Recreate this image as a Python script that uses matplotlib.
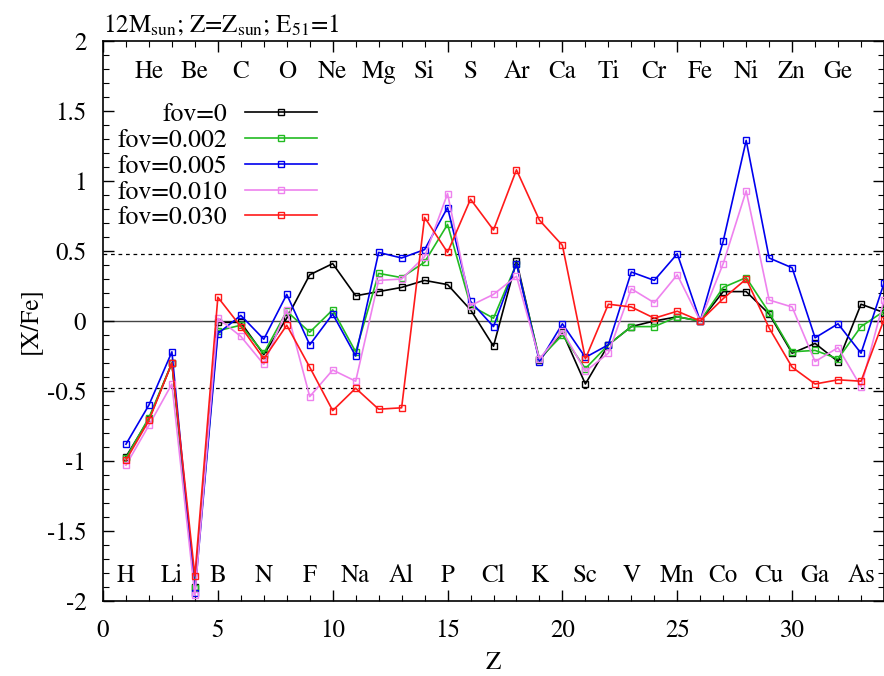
import numpy as np
import matplotlib
matplotlib.use('Agg')
import matplotlib.pyplot as plt
from matplotlib.ticker import MultipleLocator

plt.rcParams['font.family'] = ['STIXGeneral', 'DejaVu Serif']
plt.rcParams['mathtext.fontset'] = 'stix'

# Атомные номера
Z = np.arange(1, 35)

# [X/Fe] для разных fov
xfe_fov0 = [-0.97, -0.70, -0.30, -1.90, -0.01, -0.01, -0.24, 0.02, 0.33, 0.41,
            0.18, 0.21, 0.24, 0.29, 0.26, 0.08, -0.18, 0.43, -0.28, -0.08,
            -0.45, -0.17, -0.04, 0.00, 0.03, 0.00, 0.21, 0.21, 0.05, -0.23,
            -0.16, -0.29, 0.12, 0.06]
xfe_fov0002 = [-0.98, -0.69, -0.30, -1.91, -0.07, -0.03, -0.23, 0.07, -0.08, 0.08,
               -0.22, 0.34, 0.31, 0.42, 0.69, 0.11, 0.02, 0.41, -0.27, -0.10,
               -0.34, -0.17, -0.04, -0.04, 0.03, 0.00, 0.24, 0.31, 0.06, -0.22,
               -0.21, -0.27, -0.04, 0.07]
xfe_fov0005 = [-0.88, -0.60, -0.22, -1.94, -0.09, 0.04, -0.13, 0.19, -0.17, 0.05,
               -0.25, 0.49, 0.45, 0.51, 0.81, 0.14, -0.04, 0.41, -0.29, -0.02,
               -0.26, -0.17, 0.35, 0.29, 0.48, 0.00, 0.57, 1.29, 0.45, 0.38,
               -0.12, -0.02, -0.23, 0.27]
xfe_fov0010 = [-1.03, -0.745, -0.45, -1.96, 0.02, -0.11, -0.31, 0.08, -0.54, -0.35,
               -0.43, 0.29, 0.30, 0.46, 0.91, 0.11, 0.19, 0.32, -0.27, -0.07,
               -0.36, -0.23, 0.23, 0.13, 0.33, 0.00, 0.41, 0.93, 0.15, 0.10,
               -0.29, -0.19, -0.47, 0.15]
xfe_fov0030 = [-0.995, -0.71, -0.30, -1.82, 0.17, -0.04, -0.27, -0.03, -0.33, -0.64,
               -0.48, -0.63, -0.62, 0.74, 0.49, 0.87, 0.65, 1.08, 0.72, 0.54,
               -0.27, 0.12, 0.10, 0.02, 0.07, 0.00, 0.16, 0.30, -0.05, -0.33,
               -0.45, -0.42, -0.43, 0.01]

series = [
    ('fov=0', xfe_fov0, 'black'),
    ('fov=0.002', xfe_fov0002, '#22bb22'),
    ('fov=0.005', xfe_fov0005, '#0000ee'),
    ('fov=0.010', xfe_fov0010, '#ee82ee'),
    ('fov=0.030', xfe_fov0030, '#ff1a1a'),
]

# Символы элементов: чётные сверху, нечётные снизу
elements = ['H', 'He', 'Li', 'Be', 'B', 'C', 'N', 'O', 'F', 'Ne', 'Na', 'Mg',
            'Al', 'Si', 'P', 'S', 'Cl', 'Ar', 'K', 'Ca', 'Sc', 'Ti', 'V', 'Cr',
            'Mn', 'Fe', 'Co', 'Ni', 'Cu', 'Zn', 'Ga', 'Ge', 'As']

fig = plt.figure(figsize=(8.84, 6.76), dpi=100)
ax = fig.add_axes([103 / 884, 1 - 601 / 676, 781 / 884, 560 / 676])

ax.axhline(0, color='#444444', lw=1.0, zorder=1)
ax.axhline(np.log10(3), color='black', lw=0.9, ls=(0, (3, 3)), zorder=1)
ax.axhline(-np.log10(3), color='black', lw=0.9, ls=(0, (3, 3)), zorder=1)

for label, vals, col in series:
    ax.plot(Z, vals, color=col, lw=1.2, marker='s', ms=4, mfc='none',
            mec=col, mew=1.0, label=label, zorder=3)

for i, el in enumerate(elements):
    z = i + 1
    y = 1.736 if z % 2 == 0 else -1.866
    ax.text(z, y, el, ha='center', va='baseline', fontsize=18)

ax.set_xlim(0, 34)
ax.set_ylim(-2, 2)
ax.xaxis.set_major_locator(MultipleLocator(5))
ax.xaxis.set_minor_locator(MultipleLocator(1))
ax.yaxis.set_major_locator(MultipleLocator(0.5))
ax.yaxis.set_minor_locator(MultipleLocator(0.1))
ax.yaxis.set_major_formatter(plt.FuncFormatter(lambda v, p: f'{v:g}'))
ax.tick_params(which='both', direction='in', top=True, right=True, labelsize=18)
ax.tick_params(which='major', length=8, width=1)
ax.tick_params(which='minor', length=4, width=0.8)
ax.tick_params(axis='x', pad=13)
ax.tick_params(axis='y', pad=12)
for s in ax.spines.values():
    s.set_linewidth(1.2)

ax.set_xlabel('Z', fontsize=18)
ax.xaxis.set_label_coords(0.5, -0.09)
ax.set_ylabel('[X/Fe]', fontsize=18)
ax.yaxis.set_label_coords(-0.078, 0.5)

ax.text(0, 1.005, r'12M$_{\rm sun}$; Z=Z$_{\rm sun}$; E$_{\rm 51}$=1',
        transform=ax.transAxes, ha='left', va='bottom', fontsize=18)

ax.legend(loc='upper right', bbox_to_anchor=(0.274, 0.889), frameon=False,
          markerfirst=False, fontsize=18.5, handlelength=2.8, handletextpad=0.7,
          labelspacing=0.07, borderpad=0, borderaxespad=0)

fig.savefig('out.png', dpi=100)
